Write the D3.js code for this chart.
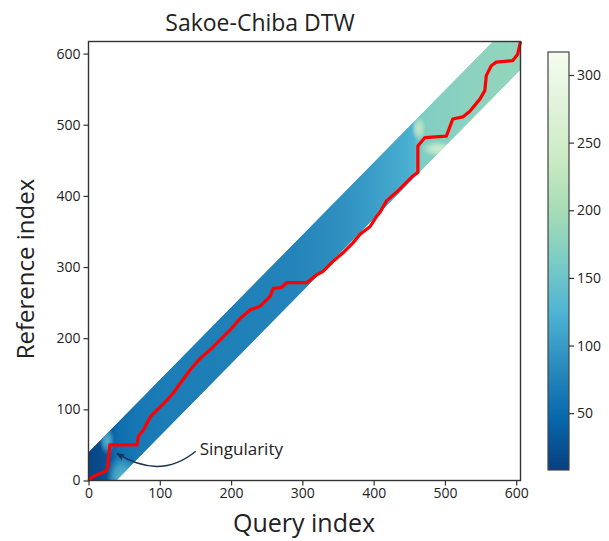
<!DOCTYPE html>
<html>
<head>
<meta charset="utf-8">
<script src="https://cdn.jsdelivr.net/npm/d3@7"></script>
<style>
  body { margin: 0; background: #fff; }
  svg { display: block; }
  text { font-family: "Open Sans", "DejaVu Sans", sans-serif; fill: #222; }
</style>
</head>
<body>
<svg id="chart" width="609" height="541"></svg>
<script>
// ---- data -------------------------------------------------------------
const queryLength = 606;        // samples in the query series
const referenceLength = 617;    // samples in the reference series
const windowWidth = 40;         // Sakoe-Chiba band half width

const xTicks = [0, 100, 200, 300, 400, 500, 600];
const yTicks = [0, 100, 200, 300, 400, 500, 600];
const colorTicks = [50, 100, 150, 200, 250, 300];
const costExtent = [8, 317];

// accumulated cost across the band, by query index
const costIndex = [0, 15, 28, 40, 70, 120, 200, 280, 330, 380, 420, 445, 456, 468, 490, 530, 606];
const costValue = [12, 18, 28, 52, 64, 70, 72, 76, 84, 96, 110, 118, 124, 166, 170, 176, 184];

// brighter spots of high cost around the two singular points
const spotX    = [26, 47, 463, 490];
const spotY    = [56, 4, 495, 466];
const spotRx   = [11, 22, 10, 23];
const spotRy   = [20, 32, 18, 11];
const spotCost = [130, 135, 235, 252];

// optimal warping path (query index, reference index)
const pathQuery = [0, 6, 14, 22, 26, 28, 30, 68, 70, 77, 87, 96, 110, 119, 129, 143, 157, 171, 185, 199, 213, 227, 241, 255, 259, 270, 278, 306, 320, 329, 343, 357, 371, 381, 395, 404, 409, 418, 432, 446, 455, 462, 462, 472, 502, 511, 525, 535, 549, 556, 558, 565, 572, 595, 602, 606];
const pathRef   = [0, 5, 9, 12, 15, 29, 50, 50, 62, 71, 90, 99, 113, 123, 137, 156, 172, 184, 198, 212, 228, 240, 245, 259, 270, 271, 278, 278, 289, 294, 308, 320, 334, 346, 357, 371, 377, 393, 405, 419, 428, 433, 470, 482, 484, 508, 511, 519, 536, 548, 569, 583, 588, 590, 599, 617];

// annotation
const noteText = "Singularity";
const noteTarget = [40, 38];
const noteAt = [156, 44];

// ---- layout -----------------------------------------------------------
const svg = d3.select("#chart");
const x = d3.scaleLinear().domain([0, queryLength]).range([88.5, 520.5]);
const y = d3.scaleLinear().domain([0, referenceLength]).range([480.5, 41.5]);

// GnBu (reversed) as a piecewise-linear map over the cost range
const gnbu = d3.schemeGnBu[9].slice().reverse();
const color = d3.scaleLinear()
  .domain(d3.range(9).map(k => costExtent[0] + k * (costExtent[1] - costExtent[0]) / 8))
  .range(gnbu)
  .clamp(true);

const defs = svg.append("defs");

// ---- band ----------------------------------------------------------------
const slope = referenceLength / queryLength;
const band = [
  [0, 0],
  [0, windowWidth],
  [(referenceLength - windowWidth) / slope, referenceLength],
  [queryLength, referenceLength],
  [queryLength, queryLength * slope - windowWidth],
  [windowWidth / slope, 0]
];
const polyLine = d3.line().x(d => x(d[0])).y(d => y(d[1]));

defs.append("clipPath").attr("id", "bandClip")
  .append("path").attr("d", polyLine(band) + "Z");

const bandGrad = defs.append("linearGradient")
  .attr("id", "bandGrad")
  .attr("gradientUnits", "userSpaceOnUse")
  .attr("x1", x(0)).attr("y1", 0)
  .attr("x2", x(queryLength)).attr("y2", 0);
bandGrad.selectAll("stop")
  .data(costIndex)
  .join("stop")
  .attr("offset", d => d / queryLength)
  .attr("stop-color", (d, i) => color(costValue[i]));

const heat = svg.append("g").attr("clip-path", "url(#bandClip)");
heat.append("path")
  .attr("d", polyLine(band) + "Z")
  .attr("fill", "url(#bandGrad)");

// soft spots
spotCost.forEach((c, i) => {
  const g = defs.append("radialGradient").attr("id", "spot" + i);
  g.append("stop").attr("offset", 0).attr("stop-color", color(c)).attr("stop-opacity", 0.95);
  g.append("stop").attr("offset", 0.5).attr("stop-color", color(c)).attr("stop-opacity", 0.65);
  g.append("stop").attr("offset", 1).attr("stop-color", color(c)).attr("stop-opacity", 0);
  heat.append("ellipse")
    .attr("cx", x(spotX[i])).attr("cy", y(spotY[i]))
    .attr("rx", x(spotRx[i]) - x(0)).attr("ry", y(0) - y(spotRy[i]))
    .attr("fill", `url(#spot${i})`);
});

// ---- warping path ----------------------------------------------------------
svg.append("path")
  .datum(pathQuery.map((q, i) => [q, pathRef[i]]))
  .attr("d", polyLine)
  .attr("fill", "none")
  .attr("stroke", "#ff0000")
  .attr("stroke-width", 3.2)
  .attr("stroke-linejoin", "round");

// ---- axes ----------------------------------------------------------------
const axisColor = "#333";
const xAxis = svg.append("g")
  .attr("transform", `translate(0,${y(0)})`)
  .call(d3.axisBottom(x).tickValues(xTicks).tickSize(5).tickPadding(3).tickSizeOuter(0));
const yAxis = svg.append("g")
  .attr("transform", `translate(${x(0)},0)`)
  .call(d3.axisLeft(y).tickValues(yTicks).tickSize(5).tickPadding(3).tickSizeOuter(0));
[xAxis, yAxis].forEach(a => {
  a.select(".domain").remove();
  a.selectAll("line").attr("stroke", axisColor).attr("stroke-width", 1.2);
  a.selectAll("text").attr("font-size", 14).attr("fill", "#222")
    .attr("font-family", "'DejaVu Sans', sans-serif");
});

// frame
svg.append("rect")
  .attr("x", x(0)).attr("y", y(referenceLength))
  .attr("width", x(queryLength) - x(0))
  .attr("height", y(0) - y(referenceLength))
  .attr("fill", "none").attr("stroke", axisColor).attr("stroke-width", 1.4);

// ---- titles ----------------------------------------------------------------
svg.append("text").attr("x", 260).attr("y", 31)
  .attr("text-anchor", "middle").attr("font-size", 23)
  .text("Sakoe-Chiba DTW");
svg.append("text").attr("x", 304).attr("y", 532)
  .attr("text-anchor", "middle").attr("font-size", 25)
  .text("Query index");
svg.append("text")
  .attr("transform", `translate(34,${(y(0) + y(referenceLength)) / 2 + 8}) rotate(-90)`)
  .attr("text-anchor", "middle").attr("font-size", 24)
  .text("Reference index");

// ---- annotation -------------------------------------------------------------
defs.append("marker").attr("id", "head")
  .attr("viewBox", "0 0 10 10").attr("refX", 9).attr("refY", 5)
  .attr("markerWidth", 9).attr("markerHeight", 9)
  .attr("markerUnits", "userSpaceOnUse")
  .attr("orient", "auto")
  .append("path").attr("d", "M0,1 L10,5 L0,9 L3,5 Z").attr("fill", "#16324f");

const p0 = [x(noteAt[0]) - 4, y(noteAt[1]) + 2];
const p2 = [x(noteTarget[0]), y(noteTarget[1])];
const ctrl = [(p0[0] + p2[0]) / 2 + 4, Math.max(p0[1], p2[1]) + 27];
svg.append("path")
  .attr("d", `M${p0[0]},${p0[1]} Q${ctrl[0]},${ctrl[1]} ${p2[0]},${p2[1]}`)
  .attr("fill", "none").attr("stroke", "#16324f").attr("stroke-width", 1.4)
  .attr("marker-end", "url(#head)");
svg.append("text")
  .attr("x", x(noteAt[0])).attr("y", y(noteAt[1]))
  .attr("dy", "0.35em").attr("font-size", 17)
  .text(noteText);

// ---- colour bar ---------------------------------------------------------------
const cb = d3.scaleLinear().domain(costExtent).range([470, 52]);
const cbGrad = defs.append("linearGradient").attr("id", "cbGrad")
  .attr("x1", 0).attr("y1", 1).attr("x2", 0).attr("y2", 0);
cbGrad.selectAll("stop").data(color.domain()).join("stop")
  .attr("offset", d => (d - costExtent[0]) / (costExtent[1] - costExtent[0]))
  .attr("stop-color", d => color(d));
svg.append("rect")
  .attr("x", 548).attr("y", cb(costExtent[1]))
  .attr("width", 21).attr("height", cb(costExtent[0]) - cb(costExtent[1]))
  .attr("fill", "url(#cbGrad)")
  .attr("stroke", "#444").attr("stroke-width", 1.2);
const cbAxis = svg.append("g").attr("transform", "translate(569,0)")
  .call(d3.axisRight(cb).tickValues(colorTicks).tickSize(5).tickPadding(3).tickSizeOuter(0));
cbAxis.select(".domain").remove();
cbAxis.selectAll("line").attr("stroke", axisColor).attr("stroke-width", 1.2);
cbAxis.selectAll("text").attr("font-size", 14).attr("fill", "#222")
  .attr("font-family", "'DejaVu Sans', sans-serif");
</script>
</body>
</html>
